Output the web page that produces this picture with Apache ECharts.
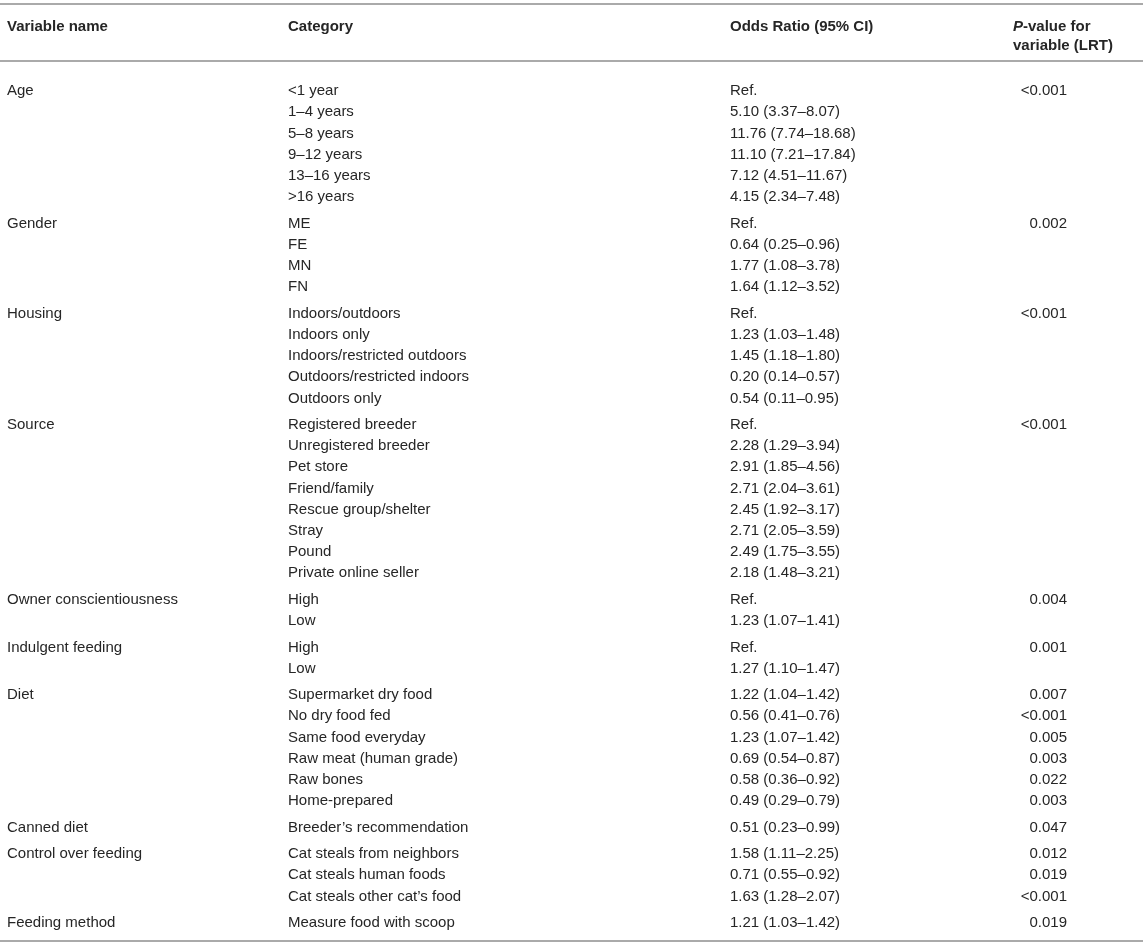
<!DOCTYPE html>
<html>
<head>
<meta charset="utf-8">
<script src="https://cdn.jsdelivr.net/npm/echarts@6/dist/echarts.min.js"></script>
<style>
html,body{margin:0;padding:0;background:#fff;}
#chart{width:1145px;height:947px;}
</style>
</head>
<body>
<div id="chart"></div>
<script>
// ---- Data ----
const headers = ['Variable name', 'Category', 'Odds Ratio (95% CI)', 'P-value for variable (LRT)'];
const variables = ['Age', 'Gender', 'Housing', 'Source', 'Owner conscientiousness', 'Indulgent feeding', 'Diet', 'Canned diet', 'Control over feeding', 'Feeding method'];
const groupSizes = [6, 4, 5, 8, 2, 2, 6, 1, 3, 1];
const categories = [
  '<1 year', '1–4 years', '5–8 years', '9–12 years', '13–16 years', '>16 years',
  'ME', 'FE', 'MN', 'FN',
  'Indoors/outdoors', 'Indoors only', 'Indoors/restricted outdoors', 'Outdoors/restricted indoors', 'Outdoors only',
  'Registered breeder', 'Unregistered breeder', 'Pet store', 'Friend/family', 'Rescue group/shelter', 'Stray', 'Pound', 'Private online seller',
  'High', 'Low',
  'High', 'Low',
  'Supermarket dry food', 'No dry food fed', 'Same food everyday', 'Raw meat (human grade)', 'Raw bones', 'Home-prepared',
  'Breeder\u2019s recommendation',
  'Cat steals from neighbors', 'Cat steals human foods', 'Cat steals other cat\u2019s food',
  'Measure food with scoop'
];
const oddsRatios = [
  'Ref.', '5.10 (3.37–8.07)', '11.76 (7.74–18.68)', '11.10 (7.21–17.84)', '7.12 (4.51–11.67)', '4.15 (2.34–7.48)',
  'Ref.', '0.64 (0.25–0.96)', '1.77 (1.08–3.78)', '1.64 (1.12–3.52)',
  'Ref.', '1.23 (1.03–1.48)', '1.45 (1.18–1.80)', '0.20 (0.14–0.57)', '0.54 (0.11–0.95)',
  'Ref.', '2.28 (1.29–3.94)', '2.91 (1.85–4.56)', '2.71 (2.04–3.61)', '2.45 (1.92–3.17)', '2.71 (2.05–3.59)', '2.49 (1.75–3.55)', '2.18 (1.48–3.21)',
  'Ref.', '1.23 (1.07–1.41)',
  'Ref.', '1.27 (1.10–1.47)',
  '1.22 (1.04–1.42)', '0.56 (0.41–0.76)', '1.23 (1.07–1.42)', '0.69 (0.54–0.87)', '0.58 (0.36–0.92)', '0.49 (0.29–0.79)',
  '0.51 (0.23–0.99)',
  '1.58 (1.11–2.25)', '0.71 (0.55–0.92)', '1.63 (1.28–2.07)',
  '1.21 (1.03–1.42)'
];
const pValues = [
  '<0.001', '', '', '', '', '',
  '0.002', '', '', '',
  '<0.001', '', '', '', '',
  '<0.001', '', '', '', '', '', '', '',
  '0.004', '',
  '0.001', '',
  '0.007', '<0.001', '0.005', '0.003', '0.022', '0.003',
  '0.047',
  '0.012', '0.019', '<0.001',
  '0.019'
];

// ---- Build rows (row position in row units, with a small gap between groups) ----
const GROUP_GAP = 0.25;
const rows = [];
let idx = 0;
groupSizes.forEach(function (n, g) {
  for (let k = 0; k < n; k++) {
    rows.push([0, idx + g * GROUP_GAP, idx, g, k === 0 ? 1 : 0]);
    idx++;
  }
});
const yMax = (idx - 1) + (groupSizes.length - 1) * GROUP_GAP;

const FONT = '"Liberation Sans", Arial, Helvetica, sans-serif';
const TXT = '#262626';
const COLX = [7, 288, 730, 1013];
const PRIGHT = 1067;

const chart = echarts.init(document.getElementById('chart'), null, {renderer: 'canvas'});

function hline(y) {
  return {
    type: 'line', silent: true,
    shape: {x1: 0, y1: y, x2: 1143, y2: y},
    style: {stroke: '#aaaaaa', lineWidth: 2}
  };
}
function headText(x, y, text) {
  return {
    type: 'text', silent: true, x: x, y: y,
    style: {text: text, fill: TXT, font: 'bold 15px ' + FONT, textVerticalAlign: 'middle'}
  };
}

chart.setOption({
  animation: false,
  grid: {left: 0, right: 0, top: 89, bottom: 947 - 923},
  xAxis: {type: 'value', min: 0, max: 1, show: false},
  yAxis: {type: 'value', min: -0.1, max: yMax, inverse: true, show: false},
  graphic: [
    hline(4),
    hline(61),
    hline(941),
    headText(COLX[0], 27, headers[0]),
    headText(COLX[1], 27, headers[1]),
    headText(COLX[2], 27, headers[2]),
    {
      type: 'text', silent: true, x: COLX[3], y: 36,
      style: {
        text: '{i|P}-value for\nvariable (LRT)',
        fill: TXT, font: 'bold 15px ' + FONT, lineHeight: 19,
        textVerticalAlign: 'middle',
        rich: {i: {fontStyle: 'italic', fontWeight: 'bold', fontSize: 15, fontFamily: FONT, fill: TXT}}
      }
    }
  ],
  series: [{
    type: 'custom',
    coordinateSystem: 'cartesian2d',
    data: rows,
    renderItem: function (params, api) {
      const pt = api.coord([0, api.value(1)]);
      const y = pt[1];
      const i = api.value(2);
      const g = api.value(3);
      const first = api.value(4);
      const font = '15px ' + FONT;
      const children = [];
      if (first) {
        children.push({type: 'text', x: COLX[0], y: y,
          style: {text: variables[g], fill: TXT, font: font, textVerticalAlign: 'middle'}});
      }
      children.push({type: 'text', x: COLX[1], y: y,
        style: {text: categories[i], fill: TXT, font: font, textVerticalAlign: 'middle'}});
      children.push({type: 'text', x: COLX[2], y: y,
        style: {text: oddsRatios[i], fill: TXT, font: font, textVerticalAlign: 'middle'}});
      if (pValues[i]) {
        children.push({type: 'text', x: PRIGHT, y: y,
          style: {text: pValues[i], fill: TXT, font: font, textAlign: 'right', textVerticalAlign: 'middle'}});
      }
      return {type: 'group', children: children};
    }
  }]
});
</script>
</body>
</html>
